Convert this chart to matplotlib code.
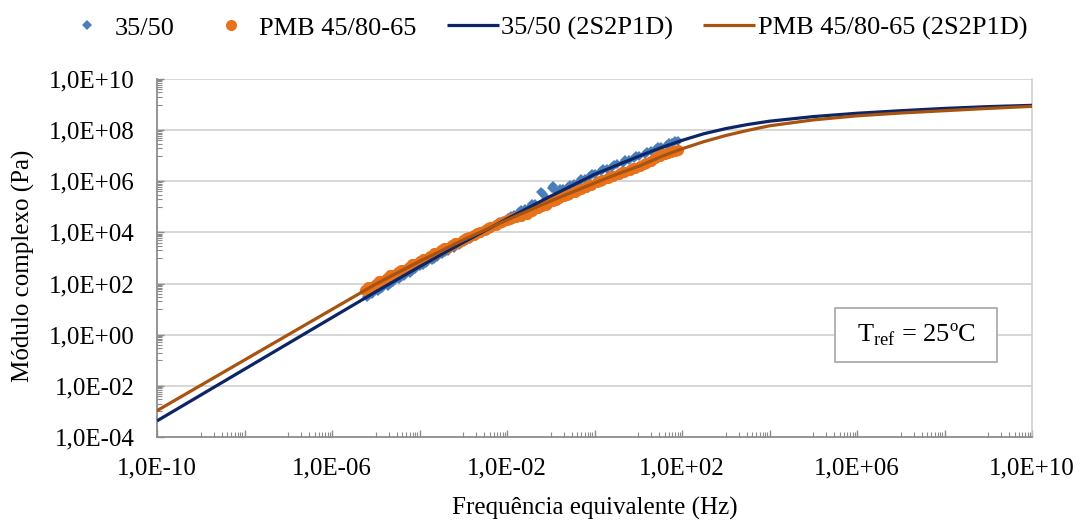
import numpy as np
import matplotlib
matplotlib.use("Agg")
import matplotlib.pyplot as plt
from matplotlib.ticker import FixedLocator, FuncFormatter, NullFormatter
from matplotlib.patches import Rectangle

plt.rcParams['font.family'] = ['Liberation Serif', 'DejaVu Serif']
plt.rcParams['mathtext.fontset'] = 'custom'
plt.rcParams['mathtext.rm'] = 'Liberation Serif'

# --- measured data (log10 of frequency in Hz, log10 of |E*| in Pa) ---
logf_3550 = [-5.20, -5.08, -4.95, -4.85, -4.72, -4.60, -4.48, -4.35, -4.22, -4.10,
             -3.98, -3.85, -3.72, -3.60, -3.48, -3.35, -3.22, -3.10, -2.98, -2.85,
             -2.72, -2.60, -2.48, -2.35, -2.22, -2.10, -1.98, -1.85, -1.72, -1.60,
             -1.48, -1.35, -1.22, -1.10, -0.95, -0.85, -0.72, -0.60, -0.48, -0.35,
             -0.22, -0.10, 0.02, 0.15, 0.28, 0.40, 0.52, 0.65, 0.78, 0.90,
             1.02, 1.15, 1.28, 1.40, 1.52, 1.65, 1.78, 1.90,
             -5.15, -4.90, -4.65, -4.42, -4.18, -3.92, -3.68, -3.42, -3.18, -2.92,
             -2.68, -2.42, -2.18, -1.92, -1.68, -1.42, -1.18, -0.98, -0.78, -0.55,
             -0.30, -0.05, 0.20, 0.45, 0.70, 0.95, 1.20, 1.45, 1.70, 1.85]
logE_3550 = [1.46, 1.60, 1.70, 1.82, 1.92, 2.05, 2.16, 2.30, 2.43, 2.56,
             2.67, 2.80, 2.92, 3.03, 3.15, 3.28, 3.40, 3.52, 3.62, 3.76,
             3.88, 3.99, 4.10, 4.22, 4.32, 4.45, 4.55, 4.68, 4.78, 4.90,
             5.00, 5.12, 5.58, 5.33, 5.82, 5.58, 5.68, 5.78, 5.88, 5.99,
             6.10, 6.20, 6.30, 6.40, 6.48, 6.57, 6.66, 6.73, 6.83, 6.92,
             6.99, 7.08, 7.17, 7.25, 7.33, 7.42, 7.50, 7.57,
             1.55, 1.78, 2.02, 2.25, 2.50, 2.74, 2.98, 3.24, 3.46, 3.71,
             3.95, 4.18, 4.42, 4.65, 4.86, 5.10, 5.52, 5.75, 5.68, 5.86,
             6.07, 6.27, 6.47, 6.64, 6.82, 6.98, 7.16, 7.34, 7.50, 7.58]

logf_pmb = [-5.25, -5.12, -5.00, -4.88, -4.75, -4.62, -4.50, -4.38, -4.25, -4.12,
            -4.00, -3.88, -3.75, -3.62, -3.50, -3.38, -3.25, -3.12, -3.00, -2.88,
            -2.75, -2.62, -2.50, -2.38, -2.25, -2.12, -2.00, -1.88, -1.75, -1.62,
            -1.50, -1.38, -1.30, -1.20, -1.08, -0.95, -0.82, -0.70, -0.58, -0.45,
            -0.32, -0.20, -0.08, 0.05, 0.18, 0.30, 0.42, 0.55, 0.68, 0.80,
            0.92, 1.05, 1.18, 1.30, 1.45, 1.55, 1.68, 1.80, 1.90,
            -5.18, -4.93, -4.68, -4.43, -4.18, -3.93, -3.68, -3.43, -3.18, -2.93,
            -2.68, -2.43, -2.18, -1.93, -1.80, -1.68, -1.55, -1.42, -1.12, -0.88,
            -0.62, -0.38, -0.12, 0.12, 0.38, 0.62, 0.88, 1.12, 1.38, 1.50,
            1.62, 1.75, 1.85]
logE_pmb = [1.76, 1.88, 2.00, 2.10, 2.22, 2.33, 2.45, 2.55, 2.66, 2.78,
            2.88, 2.98, 3.09, 3.20, 3.30, 3.40, 3.50, 3.60, 3.70, 3.81,
            3.91, 4.01, 4.11, 4.20, 4.29, 4.39, 4.49, 4.58, 4.63, 4.72,
            4.80, 4.90, 4.95, 5.04, 5.13, 5.23, 5.33, 5.42, 5.51, 5.60,
            5.70, 5.79, 5.87, 5.96, 6.05, 6.14, 6.22, 6.30, 6.38, 6.46,
            6.53, 6.61, 6.70, 6.80, 6.98, 7.05, 7.10, 7.18, 7.22,
            1.86, 2.09, 2.32, 2.54, 2.76, 2.97, 3.19, 3.39, 3.59, 3.79,
            3.99, 4.19, 4.38, 4.52, 4.60, 4.65, 4.74, 4.83, 5.08, 5.27,
            5.47, 5.66, 5.86, 6.03, 6.20, 6.36, 6.53, 6.67, 6.93, 7.00,
            7.08, 7.14, 7.20]

# --- 2S2P1D model curves ---
logf_model_3550 = [-10, -9, -8, -7, -6, -5, -4, -3, -2, -1, -0.5, 0, 0.5, 1, 1.5,
                   2, 2.5, 3, 3.5, 4, 5, 6, 7, 8, 9, 10]
logE_model_3550 = [-3.37, -2.36, -1.35, -0.34, 0.67, 1.68, 2.66, 3.61, 4.53, 5.42,
                   5.84, 6.27, 6.62, 6.97, 7.30, 7.60, 7.86, 8.06, 8.22, 8.35,
                   8.53, 8.66, 8.76, 8.85, 8.92, 8.97]

logf_model_pmb = [-10, -9, -8, -7, -6, -5, -4, -3, -2, -1, -0.5, 0, 0.5, 1, 1.5,
                  2, 2.5, 3, 3.5, 4, 5, 6, 7, 8, 9, 10]
logE_model_pmb = [-2.97, -1.98, -0.99, 0.00, 0.99, 1.98, 2.87, 3.70, 4.49, 5.23,
                  5.58, 5.93, 6.27, 6.58, 6.95, 7.27, 7.55, 7.79, 7.99, 8.17,
                  8.40, 8.56, 8.67, 8.76, 8.85, 8.93]

labels = ['35/50', 'PMB 45/80-65', '35/50 (2S2P1D)', 'PMB 45/80-65 (2S2P1D)']

C_BLUE = '#4A7EBB'
C_ORANGE = '#E8721C'
C_NAVY = '#0B2566'
C_BROWN = '#A8530F'
C_AXIS = '#8C8C8C'
C_GRID = '#CDCDCD'

W, H = 1080, 521
fig = plt.figure(figsize=(W / 100, H / 100), dpi=100)
x0, x1, y0, y1 = 157, 1032, 79, 437
ax = fig.add_axes([x0 / W, 1 - y1 / H, (x1 - x0) / W, (y1 - y0) / H])

ax.set_xscale('log')
ax.set_yscale('log')
ax.set_xlim(1e-10, 1e10)
ax.set_ylim(1e-4, 1e10)

p1, = ax.plot(10 ** np.array(logf_3550), 10 ** np.array(logE_3550), linestyle='none',
              marker='D', markersize=5.6, color=C_BLUE, markeredgewidth=0, zorder=3)
p2, = ax.plot(10 ** np.array(logf_pmb), 10 ** np.array(logE_pmb), linestyle='none',
              marker='o', markersize=8.0, color=C_ORANGE, markeredgewidth=0, zorder=3)
l1, = ax.plot(10 ** np.array(logf_model_3550), 10 ** np.array(logE_model_3550),
              color=C_NAVY, lw=2.3, zorder=4, solid_capstyle='butt')
l2, = ax.plot(10 ** np.array(logf_model_pmb), 10 ** np.array(logE_model_pmb),
              color=C_BROWN, lw=2.3, zorder=4, solid_capstyle='butt')

# horizontal gridlines at every labelled y value
ymaj = [10.0 ** e for e in range(-4, 11, 2)]
for yv in ymaj[1:]:
    ax.axhline(yv, color=C_GRID, lw=1.1, zorder=1)

# ticks: majors every two decades, minors k*10^n for odd n
xmaj = [10.0 ** e for e in range(-10, 11, 2)]
xmin = [k * 10.0 ** n for n in range(-9, 10, 2) for k in range(1, 10)]
ymin = [k * 10.0 ** n for n in range(-3, 10, 2) for k in range(1, 10)]

def sci_label(v, pos):
    e = int(round(np.log10(v)))
    return f"1,0E{e:+03d}"

def sci_label_x(v, pos):
    e = int(round(np.log10(v)))
    if (e + 10) % 4 != 0:
        return ''
    return f"1,0E{e:+03d}"

ax.xaxis.set_major_locator(FixedLocator(xmaj))
ax.xaxis.set_minor_locator(FixedLocator(xmin))
ax.xaxis.set_major_formatter(FuncFormatter(sci_label_x))
ax.xaxis.set_minor_formatter(NullFormatter())
ax.yaxis.set_major_locator(FixedLocator(ymaj))
ax.yaxis.set_minor_locator(FixedLocator(ymin))
ax.yaxis.set_major_formatter(FuncFormatter(sci_label))
ax.yaxis.set_minor_formatter(NullFormatter())

ax.tick_params(axis='both', which='major', direction='in', length=5, width=1,
               color=C_AXIS, labelcolor='#000000', labelsize=18)
ax.tick_params(axis='x', which='major', pad=15)
ax.tick_params(axis='y', which='major', pad=16)
ax.tick_params(axis='both', which='minor', direction='in', length=3.5, width=0.8,
               color=C_AXIS)

ax.spines['top'].set_visible(False)
ax.spines['right'].set_color(C_GRID)
ax.spines['right'].set_linewidth(1.1)
for s in ['left', 'bottom']:
    ax.spines[s].set_color(C_AXIS)
    ax.spines[s].set_linewidth(1.3)

fig.text((x0 + x1) / 2 / W, 1 - 508 / H, 'Frequência equivalente (Hz)', fontsize=18,
         ha='center', va='center')
fig.text(23 / W, 1 - 266 / H, 'Módulo complexo (Pa)', fontsize=18, rotation=90,
         ha='center', va='center')

# reference temperature box
bx0 = (835 - x0) / (x1 - x0)
by0 = (y1 - 362) / (y1 - y0)
bw = 162 / (x1 - x0)
bh = 54 / (y1 - y0)
ax.add_patch(Rectangle((bx0, by0), bw, bh, transform=ax.transAxes, facecolor='white',
                       edgecolor='#A6A6A6', lw=1.2, zorder=5))
ax.text(bx0 + bw / 2, by0 + bh / 2, r'T$_{\mathregular{ref}}$ = 25ºC', transform=ax.transAxes,
        ha='center', va='center', fontsize=19, zorder=6)

fig.legend([p1, p2, l1, l2], labels, loc='center', bbox_to_anchor=(544 / W, 1 - 28 / H),
           ncol=4, frameon=False, fontsize=19, handlelength=1.97, handletextpad=0.08,
           columnspacing=1.15, borderaxespad=0, markerscale=1.0)

fig.savefig('out.png', dpi=100, facecolor='white')
